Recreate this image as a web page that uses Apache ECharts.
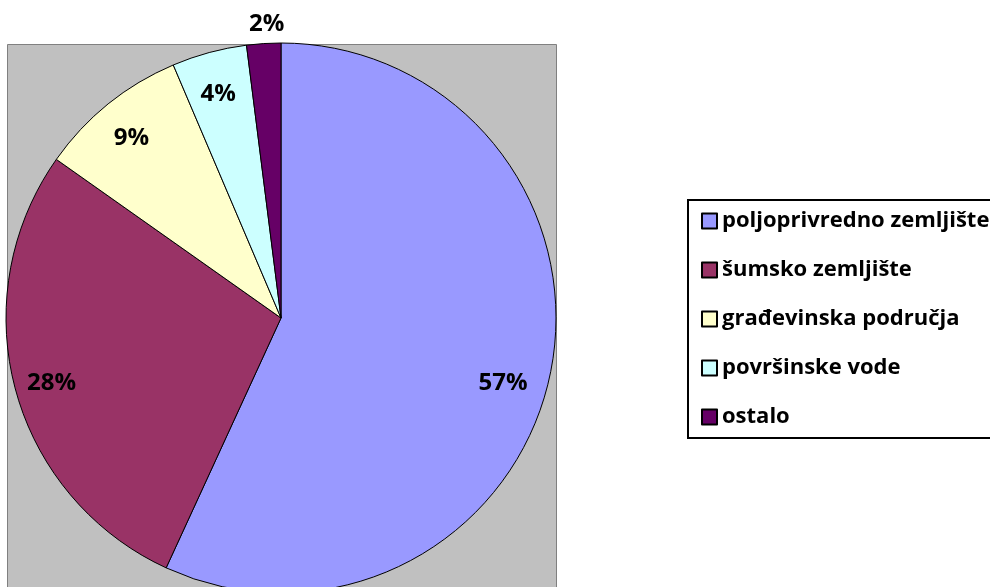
<!DOCTYPE html>
<html>
<head>
<meta charset="utf-8">
<script src="https://cdn.jsdelivr.net/npm/echarts@6/dist/echarts.min.js"></script>
<style>html,body{margin:0;padding:0;background:#fff;}#c{width:990px;height:587px;}</style>
</head>
<body>
<div id="c"></div>
<script>
const categories = ['poljoprivredno zemljište', 'šumsko zemljište', 'građevinska područja', 'površinske vode', 'ostalo'];
const values = [56.8, 27.9, 8.8, 4.4, 2.0];
const colors = ['#9999FF', '#993366', '#FFFFCC', '#CCFFFF', '#660066'];

const chart = echarts.init(document.getElementById('c'), null, {renderer: 'canvas'});
const FONT = 'Open Sans';
const CX = 281, CY = 318, R = 275;

const mainData = categories.map((n, i) => ({name: n, value: values[i], itemStyle: {color: colors[i]}}));
const labelData = categories.map((n, i) => {
  const d = {name: n, value: values[i]};
  if (i === 0) {
    d.label = {offset: [-9, 15]};
  }
  if (i === categories.length - 1) {
    d.label = {position: 'outside', distanceToLabelLine: -22, offset: [0, 1]};
    d.labelLine = {show: false, length: 20, length2: 0};
  }
  return d;
});

chart.setOption({
  animation: false,
  backgroundColor: '#ffffff',
  graphic: [
    {type: 'rect', z: -10, shape: {x: 7.5, y: 44.5, width: 549, height: 560},
     style: {fill: '#C0C0C0', stroke: '#808080', lineWidth: 1}},
    {type: 'rect', z: 10, shape: {x: 688, y: 200, width: 330, height: 238},
     style: {fill: 'none', stroke: '#000', lineWidth: 2}}
  ],
  legend: {
    orient: 'vertical',
    left: 701,
    top: 210,
    padding: 0,
    itemWidth: 15,
    itemHeight: 15,
    itemGap: 27,
    icon: 'rect',
    data: categories,
    textStyle: {fontFamily: FONT, fontWeight: 'bold', fontSize: 22, lineHeight: 20, color: '#000'}
  },
  series: [
    {
      type: 'pie',
      center: [CX, CY],
      radius: [0, R],
      startAngle: 90,
      clockwise: true,
      avoidLabelOverlap: false,
      silent: true,
      label: {show: false},
      labelLine: {show: false},
      itemStyle: {borderColor: '#000', borderWidth: 1},
      data: mainData
    },
    {
      type: 'pie',
      center: [CX, CY],
      radius: [192, R],
      startAngle: 90,
      clockwise: true,
      avoidLabelOverlap: false,
      silent: true,
      itemStyle: {color: 'rgba(0,0,0,0)', borderWidth: 0},
      label: {
        show: true,
        position: 'inside',
        offset: [-1, 4],
        fontFamily: FONT,
        fontWeight: 'bold',
        fontSize: 24,
        color: '#000',
        formatter: p => Math.round(p.percent) + '%'
      },
      labelLine: {show: false},
      data: labelData
    }
  ]
});
</script>
</body>
</html>
